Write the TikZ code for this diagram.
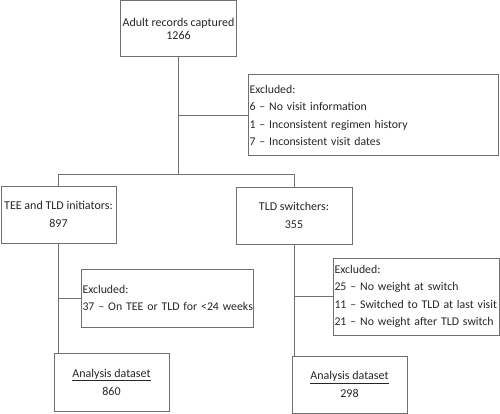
\documentclass[tikz,border=0pt]{standalone}
\usepackage{fontspec}
\setmainfont{Carlito}
\usepackage{xcolor}
\usepackage{tikz}
\usetikzlibrary{calc}
\definecolor{ink}{HTML}{262626}
\definecolor{edge}{HTML}{707070}
\newcommand{\exline}[1]{\mbox{#1}}
\tikzset{
  box/.style={draw=edge, line width=1pt, rectangle, inner sep=2pt, text=ink, align=center,
    font=\fontsize{12}{18}\selectfont},
  exbox/.style={box, align=left, inner xsep=1.5pt, font=\fontsize{11.8}{17.5}\selectfont},
  link/.style={draw=edge, line width=1pt},
}

\begin{document}
\begin{tikzpicture}[x=1pt, y=-1pt]
  \useasboundingbox (0,0) rectangle (500,414);

  \node[box, minimum width=115, minimum height=56, font=\fontsize{12}{12.5}\selectfont]
    (top) at (178.5,29) {Adult records captured\\1266};
  \node[exbox, text width=247, minimum height=81] (exA) at (373,115.5)
    {Excluded:\\\exline{6 -- No visit information}\\\exline{1 -- Inconsistent regimen history}\\\exline{7 -- Inconsistent visit dates}};

  \node[box, minimum width=115, minimum height=57] (tee) at (58.5,214.5) {TEE and TLD initiators:\\897};
  \node[box, minimum width=116, minimum height=57] (tld) at (294,215.5) {TLD switchers:\\355};

  \node[exbox, text width=169, minimum height=58] (exB) at (167,298)
    {Excluded:\\\exline{37 -- On TEE or TLD for <24 weeks}};
  \node[exbox, text width=163, minimum height=77] (exC) at (416,296.5)
    {Excluded:\\\exline{25 -- No weight at switch}\\\exline{11 -- Switched to TLD at last visit}\\\exline{21 -- No weight after TLD switch}};

  \node[box, minimum width=115, minimum height=58] (anaA) at (111.5,382) {\underline{Analysis dataset}\\860};
  \node[box, minimum width=115, minimum height=57] (anaB) at (349.5,384.5) {\underline{Analysis dataset}\\298};

  \coordinate (split) at ($(top.south)+(0,117)$); % branch point
  \coordinate (leftup) at (split -| tee.north);
  \coordinate (rightup) at (split -| tld.north);

  % main stem and branches
  \draw[link] (top.south) -- (split);
  \draw[link] (exA.west -| top.south) -- (exA.west);
  \draw[link] (tee.north) -- (leftup) -- (rightup) -- (tld.north);

  % left arm
  \draw[link] (tee.south) -- (tee.south |- anaA.north);
  \draw[link] (exB.west -| tee.south) -- (exB.west);

  % right arm
  \draw[link] (tld.south) -- (tld.south |- anaB.north);
  \draw[link] (exC.west -| tld.south) -- (exC.west);
\end{tikzpicture}
\end{document}
